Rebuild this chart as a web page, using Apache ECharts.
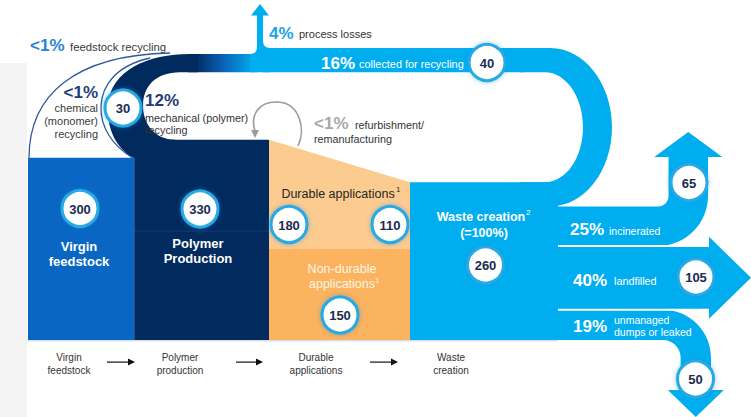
<!DOCTYPE html>
<html>
<head>
<meta charset="utf-8">
<title>Plastics value chain flows</title>
<script src="https://cdn.jsdelivr.net/npm/echarts@6/dist/echarts.min.js"></script>
<style>
  html, body { margin: 0; padding: 0; background: #ffffff; }
  #chart { width: 751px; height: 417px; }
</style>
</head>
<body>
<div id="chart"></div>
<script>
// ---- Data (Mt) ----
const stageLabels = ['Virgin\nfeedstock', 'Polymer\nproduction', 'Durable\napplications', 'Waste\ncreation'];
const stageTitles = ['Virgin\nfeedstock', 'Polymer\nProduction'];
const stageValues = [300, 330];                 // virgin feedstock, polymer production
const applicationNames = ['Durable applications', 'Non-durable\napplications'];
const applicationIn = [180, 150];               // entering use
const applicationOut = [110, 150];              // leaving use as waste
const wasteCreation = 260;

// waste fates, stacked from the bottom of the waste column upwards
const fateNames = ['unmanaged\ndumps or leaked', 'landfilled', 'incinerated', 'collected for recycling'];
const fateValues = [50, 105, 65, 40];
const fateShares = ['19%', '40%', '25%', '16%'];

// recycling loop
const loopNames = ['process losses', 'mechanical (polymer)\nrecycling', 'chemical\n(monomer)\nrecycling', 'feedstock recycling', 'refurbishment/\nremanufacturing'];
const loopShares = ['4%', '12%', '<1%', '<1%', '<1%'];
const loopValues = [10, 30];                    // process losses, mechanical recycling back into production

// ---- Styling ----
const FONT = '"Liberation Sans", Arial, Helvetica, sans-serif';
const C = {
  virgin: '#0966c2', navy: '#012a5e', durable: '#fccb90', nondurable: '#fbb35f',
  waste: '#00aeef', ring: '#27a9e5', badgeText: '#1a2b52', grey: '#f3f3f3'
};
const K = 0.5523; // cubic bezier quarter-ellipse factor

// column edges along the x layout axis (px)
const COLS = [28, 134, 269, 410, 558];

function renderFlow(params, api) {
  const X = x => api.coord([x, 0])[0];
  const Y = v => api.coord([0, v])[1];
  const f = n => n.toFixed(2);
  const els = [];
  const add = e => { e.silent = true; e.z2 = els.length; els.push(e); return e; };
  const rect = (x0, y0, x1, y1, fill) => add({ type: 'rect', shape: { x: x0, y: Math.min(y0, y1), width: x1 - x0, height: Math.abs(y1 - y0) }, style: { fill } });
  const path = (d, style) => add({ type: 'path', shape: { pathData: d }, style });
  const text = (s, x, y, o) => add({ type: 'text', x, y, style: Object.assign({ text: s, fill: '#333', fontSize: 11, fontFamily: FONT, fontWeight: 'normal', align: 'left', verticalAlign: 'middle' }, o || {}) });
  const badge = (value, cx, cy) => {
    add({ type: 'circle', shape: { cx, cy, r: 18 }, style: { fill: '#fff', stroke: C.ring, lineWidth: 3, shadowBlur: 5, shadowColor: 'rgba(0,140,225,0.45)' } });
    text(String(value), cx, cy + 0.5, { fill: C.badgeText, fontSize: 13, fontWeight: 'bold', align: 'center' });
  };

  const [x0, x1, x2, x3, x4] = COLS.map(X);
  const [virgin, polymer] = stageValues;
  const yBase = Y(0);

  // light panel strip on the left
  rect(0, 63, 27, 417, C.grey);

  // thin outlines of the feedstock and chemical recycling loops
  path(`M${x0 + 1} ${f(Y(virgin))} C${x0 + 1} 95 75 55 170 53`, { fill: 'none', stroke: '#2d5a9e', lineWidth: 1.3 });
  path(`M${x1 - 1} ${f(Y(virgin))} C112 146 100 126 101 106 C102 86 115 66 150 58`, { fill: 'none', stroke: '#2d5a9e', lineWidth: 1.3 });

  // stage columns
  rect(x0, Y(virgin), x1, yBase, C.virgin);
  rect(x1, Y(polymer), x2, yBase, C.navy);
  const durTopL = Y(applicationIn[0] + applicationIn[1]);
  const durTopR = Y(applicationOut[0] + applicationOut[1]);
  const yApp = Y(applicationIn[1]);
  path(`M${x2} ${f(durTopL)} L${x3} ${f(durTopR)} L${x3} ${f(yApp)} L${x2} ${f(yApp)} Z`, { fill: C.durable });
  rect(x2, yApp, x3, yBase, C.nondurable);
  rect(x3, Y(wasteCreation), x4, yBase, C.waste);

  // seams inside the navy column and along the base
  rect(x1, Y(virgin), x1 + 1, yBase, 'rgba(255,255,255,0.18)');
  rect(x1, 230.5, x2, 231.5, 'rgba(255,255,255,0.08)');
  rect(x0, yBase, x4, yBase + 1.5, '#d9e0e8');

  // cumulative fate levels in the waste column
  const cum = [0];
  fateValues.forEach(v => cum.push(cum[cum.length - 1] + v));
  const yF = cum.map(Y);

  // recycling loop: leaves the top of the waste column and swings back over the chart
  const yT = 48;
  const t = yF[3] - yF[4];
  const yB = yF[3];
  const cy = (yT + yB) / 2, ry = (yB - yT) / 2, ryi = ry - t;
  path(`M520 ${yT} L550 ${yT} C${550 + K * 62} ${yT} 612 ${f(cy - K * ry)} 612 ${f(cy)} ` +
       `C612 ${f(cy + K * ry)} ${550 + K * 62} ${f(yB)} 550 ${f(yB)} L520 ${f(yB)} L520 ${f(yB - t)} ` +
       `L545 ${f(yB - t)} C${545 + K * 38} ${f(yB - t)} 583 ${f(cy + K * ryi)} 583 ${f(cy)} ` +
       `C583 ${f(cy - K * ryi)} ${545 + K * 38} ${f(yT + t)} 545 ${f(yT + t)} L520 ${f(yT + t)} Z`, { fill: C.waste });

  // process losses stem
  const wLoss = Y(0) - Y(loopValues[0]);
  const wMech = Y(0) - Y(loopValues[1]);
  const yLo = yT + t - wMech;
  const stemCx = 260, sL = stemCx - wLoss / 2, sR = stemCx + wLoss / 2, r = 7;
  rect(sR, yT, 525, yT + t, C.waste);
  const grad = new echarts.graphic.LinearGradient(195, 0, 255, 0, [
    { offset: 0, color: C.navy }, { offset: 0.45, color: '#0b5fb4' }, { offset: 1, color: C.waste }
  ], true);
  rect(188, yLo, sL, yT + t, grad);
  path(`M${f(sL)} 15 L${f(sL)} ${f(yLo - r)} Q${f(sL)} ${f(yLo)} ${f(sL - r)} ${f(yLo)} L${f(sL - r)} ${f(yT + t)} ` +
       `L${f(sR + r)} ${f(yT + t)} L${f(sR + r)} ${yT} Q${f(sR)} ${yT} ${f(sR)} ${yT - r} L${f(sR)} 15 Z`, { fill: C.waste });
  path(`M251 15.5 L269 15.5 L260 4 Z`, { fill: C.waste });

  // mechanical recycling returns into polymer production
  const yOb = Y(virgin), yIb = Y(polymer), yi = yT + t;
  const cyc = (yLo + yOb) / 2;
  path(`M198 ${f(yLo)} L190 ${f(yLo)} C148 ${f(yLo)} 110 ${f(yLo + 16)} 108 ${f(cyc)} ` +
       `C107 ${f(cyc + 26)} 118 ${f(yOb - 8)} ${x1} ${f(yOb)} L175 ${f(yOb)} L175 ${f(yIb)} ` +
       `C155 ${f(yIb)} 143 ${f(cyc + 18)} 143 ${f(cyc)} C143 ${f(cyc - 20)} 156 ${f(yi)} 180 ${f(yi)} L198 ${f(yi)} Z`, { fill: C.navy });

  // incinerated: turns upward into an arrow
  {
    const top = yF[3], bot = yF[2], w = bot - top, R = 50, xr = 708, xl = xr - w;
    const ccx = xr - R, ccy = bot - R, ri = R - w, acx = (xl + xr) / 2;
    path(`M556 ${f(top)} L${ccx} ${f(top)} C${f(ccx + K * ri)} ${f(top)} ${f(xl)} ${f(ccy + K * ri)} ${f(xl)} ${f(ccy)} ` +
         `L${f(xl)} 157 L${f(acx - 34)} 157 L${f(acx)} 132 L${f(acx + 34)} 157 L${xr} 157 L${xr} ${f(ccy)} ` +
         `C${xr} ${f(ccy + K * R)} ${f(ccx + K * R)} ${f(bot)} ${ccx} ${f(bot)} L556 ${f(bot)} Z`, { fill: C.waste });
  }
  // landfilled: straight arrow to the right
  {
    const top = yF[2], bot = yF[1], cyl = (top + bot) / 2;
    path(`M556 ${f(top)} L709 ${f(top)} L709 ${f(cyl - 41)} L751 ${f(cyl)} L709 ${f(cyl + 41)} L709 ${f(bot)} L556 ${f(bot)} Z`, { fill: C.waste });
  }
  // unmanaged dumps: turns downward into an arrow
  {
    const top = yF[1], bot = yF[0], w = bot - top, R = 48, xr = 711, xl = xr - w;
    const ccx = xr - R, ccy = top + R, ri = R - w, acx = (xl + xr) / 2;
    path(`M556 ${f(top)} L${ccx} ${f(top)} C${f(ccx + K * R)} ${f(top)} ${xr} ${f(ccy - K * R)} ${xr} ${f(ccy)} ` +
         `L${xr} 390 L${f(acx + 28)} 390 L${f(acx)} 417 L${f(acx - 28)} 390 L${f(xl)} 390 L${f(xl)} ${f(ccy)} ` +
         `C${f(xl)} ${f(ccy - K * ri)} ${f(ccx + K * ri)} ${f(bot)} ${ccx} ${f(bot)} L556 ${f(bot)} Z`, { fill: C.waste });
  }
  // white separators between the fate streams
  [yF[1], yF[2]].forEach(y => rect(x4, y - 1, 709, y + 1, '#ffffff'));

  // refurbishment loop arrow
  path('M298 146 C306 130 300 103 278 102 C258 101 250 116 255 131', { fill: 'none', stroke: '#9b9b9b', lineWidth: 1.6 });
  path('M251 130 L259 130 L255 138 Z', { fill: '#9b9b9b' });

  // stage captions inside the columns
  const bold = { fill: '#fff', fontSize: 13, fontWeight: 'bold', align: 'center', lineHeight: 15 };
  text(stageTitles[0], 79, 253.5, bold);
  text(stageTitles[1], 198, 250.5, bold);
  text(applicationNames[0], 338, 194, { fill: '#262626', fontSize: 12.5, align: 'center' });
  text('1', 396, 189.5, { fill: '#262626', fontSize: 8 });
  text(applicationNames[1], 342, 276.5, { fill: '#fff4e6', fontSize: 12.5, align: 'center', lineHeight: 15 });
  text('1', 375, 280, { fill: '#fff4e6', fontSize: 8 });
  text('Waste creation', 481, 217, { fill: '#fff', fontSize: 12.5, fontWeight: 'bold', align: 'center' });
  text('2', 526, 212.5, { fill: '#fff', fontSize: 8 });
  text('(=100%)', 484, 232.5, { fill: '#fff', fontSize: 12.5, fontWeight: 'bold', align: 'center' });

  // recycling loop annotations
  const pct = (s, x, y, color) => text(s, x, y, { fill: color, fontSize: 17, fontWeight: 'bold' });
  pct(loopShares[3], 30, 45, '#2b82d2');
  text(loopNames[3], 70, 46.5, { fill: '#3a3a3a', fontSize: 11.3 });
  text(loopShares[2], 98, 92, { fill: '#1f3d7a', fontSize: 17, fontWeight: 'bold', align: 'right' });
  text(loopNames[2], 98, 121, { fill: '#3a3a3a', fontSize: 11, align: 'right', lineHeight: 13 });
  pct(loopShares[1], 145, 100, '#1f3d7a');
  text(loopNames[1], 145, 124, { fill: '#333', fontSize: 10.8, lineHeight: 12.5 });
  pct(loopShares[4], 314, 123, '#a8a8a8');
  const refurb = loopNames[4].split('\n');
  text(refurb[0], 355, 124.5, { fill: '#333', fontSize: 10.8 });
  text(refurb[1], 314, 138.5, { fill: '#333', fontSize: 10.8 });
  pct(loopShares[0], 269, 33, '#1ba6e6');
  text(loopNames[0], 299, 34, { fill: '#333', fontSize: 11 });

  // fate annotations
  pct(fateShares[3], 321, 63, '#fff');
  text(fateNames[3], 359, 64, { fill: '#fff', fontSize: 10.9 });
  pct(fateShares[2], 570, 229, '#fff');
  text(fateNames[2], 609, 230.5, { fill: '#fff', fontSize: 10.5 });
  pct(fateShares[1], 573, 280, '#fff');
  text(fateNames[1], 614, 281, { fill: '#fff', fontSize: 10.8 });
  pct(fateShares[0], 573, 326, '#fff');
  text(fateNames[0], 614, 325.5, { fill: '#fff', fontSize: 10.5, lineHeight: 12 });

  // value badges
  badge(loopValues[1], 123, 108);
  badge(fateValues[3], 487, 62.5);
  badge(stageValues[0], 80, 208.5);
  badge(stageValues[1], 200, 209);
  badge(applicationIn[0], 289, 224.5);
  badge(applicationOut[0], 390, 224.5);
  badge(applicationIn[1], 340, 315);
  badge(wasteCreation, 485.5, 265);
  badge(fateValues[2], 689, 182.5);
  badge(fateValues[1], 696, 277);
  badge(fateValues[0], 695.5, 379);

  // stage axis along the bottom
  const stageX = [69, 180, 316, 451];
  stageLabels.forEach((s, i) => text(s, stageX[i], 363.5, { fill: '#333', fontSize: 10, align: 'center', lineHeight: 13 }));
  [[107, 135], [236, 263], [370, 398]].forEach(([a, b]) => {
    rect(a, 361.5, b - 6, 362.7, '#111');
    path(`M${b - 7} 358.6 L${b} 362.1 L${b - 7} 365.6 Z`, { fill: '#111' });
  });

  return { type: 'group', children: els };
}

const chart = echarts.init(document.getElementById('chart'), null, { renderer: 'svg' });
chart.setOption({
  animation: false,
  backgroundColor: '#ffffff',
  grid: { left: 0, right: 0, top: 0, bottom: 77 },
  xAxis: { type: 'value', min: 0, max: 751, show: false },
  yAxis: { type: 'value', min: 0, max: 560, show: false },
  series: [{
    type: 'custom',
    name: 'Plastics flow',
    clip: false,
    silent: true,
    data: [[0, 0]],
    renderItem: renderFlow
  }]
});
</script>
</body>
</html>
